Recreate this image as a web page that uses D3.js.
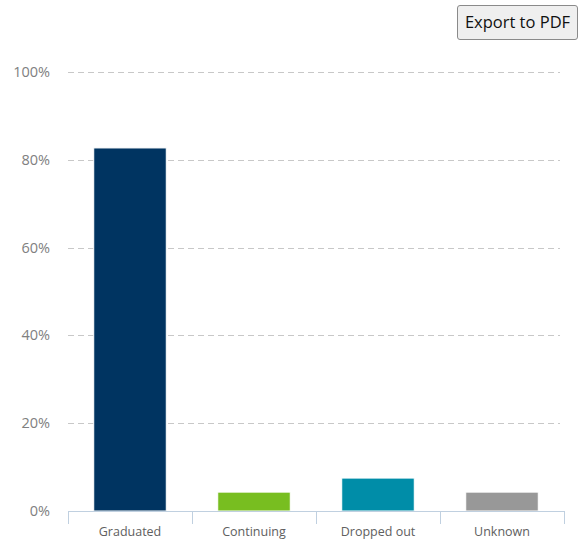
<!DOCTYPE html>
<html>
<head>
<meta charset="utf-8">
<script src="https://cdn.jsdelivr.net/npm/d3@7"></script>
<style>
  body { margin: 0; background: #fff; font-family: "Open Sans", "DejaVu Sans", sans-serif; }
  #chart { position: relative; width: 581px; height: 544px; }
  #export {
    position: absolute; left: 457px; top: 5px; width: 121px; height: 35px;
    box-sizing: border-box; border: 1px solid #8a8a8a; border-radius: 3px;
    background: #efefef; font-size: 16.5px; color: #111; text-align: center; line-height: 32px;
    font-family: "Open Sans", "DejaVu Sans", sans-serif;
  }
</style>
</head>
<body>
<div id="chart"><div id="export">Export to PDF</div></div>
<script>
// values
var categories = ["Graduated", "Continuing", "Dropped out", "Unknown"];
var shares = [82.7, 4.3, 7.5, 4.3];
var barColors = ["#003461", "#78BE20", "#008DA8", "#989898"];
var yTicks = [0, 20, 40, 60, 80, 100];

var width = 581, height = 544;
var plotLeft = 68, plotRight = 564, plotTop = 72, plotBottom = 511;

var svg = d3.select("#chart").append("svg")
    .attr("width", width)
    .attr("height", height)
    .style("position", "absolute").style("left", 0).style("top", 0);

var y = d3.scaleLinear().domain([0, 100]).range([plotBottom, plotTop]);
var x = d3.scaleBand().domain(categories).range([plotLeft, plotRight]).paddingInner(0.415).paddingOuter(0.2075);
var xTick = d3.scaleBand().domain(categories).range([plotLeft, plotRight]);

// dashed grid lines
svg.selectAll(".grid")
    .data(yTicks.filter(function(d) { return d > 0; }))
    .enter().append("line")
    .attr("x1", plotLeft).attr("x2", plotRight - 4)
    .attr("y1", function(d) { return Math.round(y(d)) + 0.5; })
    .attr("y2", function(d) { return Math.round(y(d)) + 0.5; })
    .attr("stroke", "#c8c8c8")
    .attr("stroke-dasharray", "6,4");

// y labels
svg.selectAll(".ylab")
    .data(yTicks)
    .enter().append("text")
    .attr("x", 50)
    .attr("y", function(d) { return y(d) + 5; })
    .attr("text-anchor", "end")
    .attr("fill", "#808080")
    .style("font-size", "14.5px")
    .text(function(d) { return d + "%"; });

// bars
svg.selectAll(".bar")
    .data(shares)
    .enter().append("rect")
    .attr("x", function(d, i) { return x(categories[i]); })
    .attr("width", x.bandwidth())
    .attr("y", function(d) { return y(d); })
    .attr("height", function(d) { return plotBottom - y(d); })
    .attr("fill", function(d, i) { return barColors[i]; })
    .attr("stroke", "#fff").attr("stroke-width", 1);

// x axis line + ticks
svg.append("line")
    .attr("x1", plotLeft).attr("x2", plotRight)
    .attr("y1", plotBottom + 0.5).attr("y2", plotBottom + 0.5)
    .attr("stroke", "#C0D0E0");

var tickPos = categories.map(function(c) { return xTick(c); }).concat([plotRight]);
svg.selectAll(".tick")
    .data(tickPos)
    .enter().append("line")
    .attr("x1", function(d) { return Math.round(d) + 0.5; })
    .attr("x2", function(d) { return Math.round(d) + 0.5; })
    .attr("y1", plotBottom).attr("y2", plotBottom + 13)
    .attr("stroke", "#C0D0E0");

svg.selectAll(".xlab")
    .data(categories)
    .enter().append("text")
    .attr("x", function(d) { return xTick(d) + xTick.bandwidth() / 2; })
    .attr("y", 536)
    .attr("text-anchor", "middle")
    .attr("fill", "#606060")
    .style("font-size", "12.5px")
    .text(function(d) { return d; });
</script>
</body>
</html>
